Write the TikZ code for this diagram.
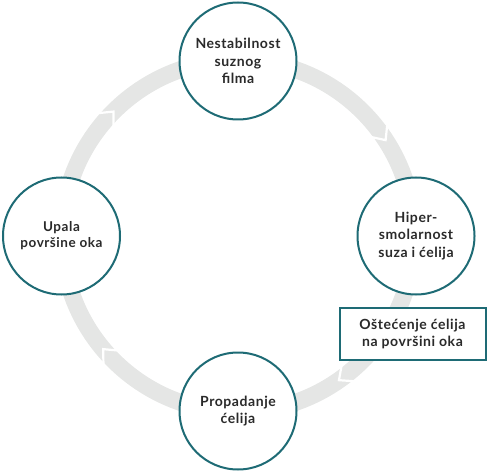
\documentclass[tikz,border=0pt]{standalone}
\usepackage{fontspec}
\setmainfont{Lato}[LetterSpace=4]
\definecolor{teal1}{HTML}{1E6B75}
\definecolor{ringgray}{HTML}{E5E6E5}
\definecolor{txt}{HTML}{2A2A2A}
\begin{document}
\begin{tikzpicture}[x=1pt,y=1pt,
  stage/.style={circle,draw=teal1,line width=2pt,fill=white,minimum size=117pt,inner sep=0pt,
    align=center,font=\bfseries\fontsize{14}{17.5}\selectfont,text=txt},
  notebox/.style={rectangle,draw=teal1,line width=2pt,fill=white,minimum width=146pt,minimum height=52pt,
    align=center,font=\bfseries\fontsize{14}{17}\selectfont,text=txt},
  gap/.style={draw=white,line width=2.2pt}]
\useasboundingbox (0,0) rectangle (487,472);
\coordinate (c) at (238,236);
% ring
\draw[ringgray,line width=17pt] (c) circle[radius=176];
% chevron gaps (clockwise direction)
\foreach \a in {37,-51,-136,139}{
  \draw[gap] ([shift={(\a:187)}]c) -- ([shift={(\a-4:176)}]c) -- ([shift={(\a:165)}]c);
}
\node[stage] (top) at (238,411) {Nestabilnost\\suznog\\filma};
\node[stage] (right) at (416,236) {Hiper-\\smolarnost\\suza i ćelija};
\node[stage] (bottom) at (238,61) {Propadanje\\ćelija};
\node[stage,font=\bfseries\fontsize{13.5}{16}\selectfont] (left) at (61.5,236) {Upala\\površine oka};
\node[notebox] (note) at (412.5,138.5) {Oštećenje ćelija\\na površini oka};
\end{tikzpicture}
\end{document}
